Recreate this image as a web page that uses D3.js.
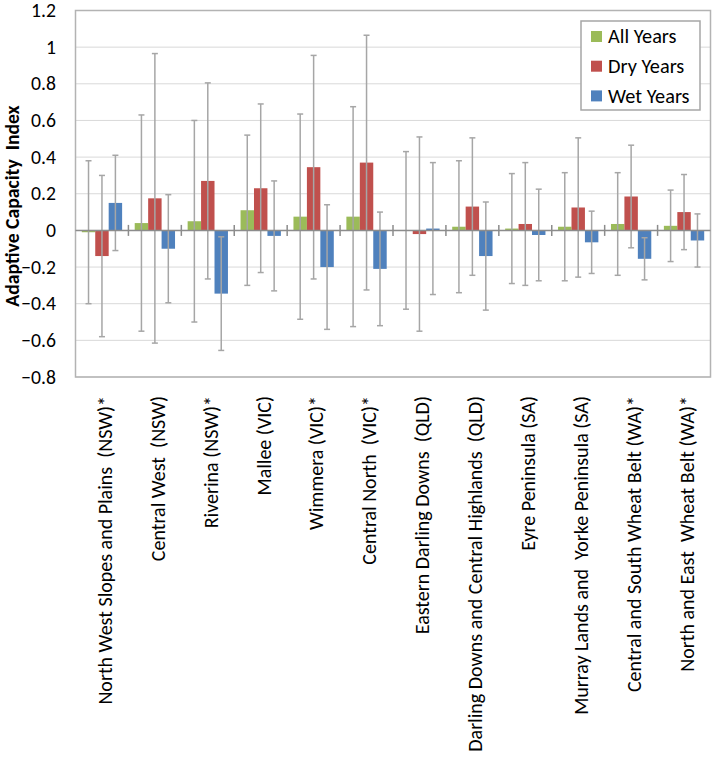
<!DOCTYPE html>
<html>
<head>
<meta charset="utf-8">
<script src="https://cdn.jsdelivr.net/npm/d3@7"></script>
<style>
  body { margin: 0; background: #fff; }
  svg text { font-family: Carlito, Calibri, Lato, "Open Sans", sans-serif; fill: #000; }
</style>
</head>
<body>
<svg id="chart" width="715" height="757"></svg>
<script>
// ===============================
// Dades
// ===============================
const regions = [
  "North West Slopes and Plains  (NSW)*",
  "Central West  (NSW)",
  "Riverina (NSW)*",
  "Mallee (VIC)",
  "Wimmera (VIC)*",
  "Central North  (VIC)*",
  "Eastern Darling Downs  (QLD)",
  "Darling Downs and Central Highlands  (QLD)",
  "Eyre Peninsula (SA)",
  "Murray Lands and  Yorke Peninsula (SA)",
  "Central and South Wheat Belt (WA)*",
  "North and East  Wheat Belt (WA)*"
];

const seriesNames = ["All Years", "Dry Years", "Wet Years"];
const seriesColors = ["#9bbb59", "#c0504d", "#4f81bd"];

const allYears = [-0.01, 0.04, 0.05, 0.11, 0.075, 0.075, 0.0, 0.02, 0.01, 0.02, 0.035, 0.025];
const dryYears = [-0.14, 0.175, 0.27, 0.23, 0.345, 0.37, -0.02, 0.13, 0.035, 0.125, 0.185, 0.1];
const wetYears = [0.15, -0.1, -0.345, -0.03, -0.2, -0.21, 0.01, -0.14, -0.025, -0.065, -0.155, -0.055];

// error bars (+/-)
const allYearsErr = [0.39, 0.59, 0.55, 0.41, 0.56, 0.6, 0.43, 0.36, 0.3, 0.295, 0.28, 0.195];
const dryYearsErr = [0.44, 0.79, 0.535, 0.46, 0.61, 0.695, 0.53, 0.375, 0.335, 0.38, 0.28, 0.205];
const wetYearsErr = [0.26, 0.295, 0.31, 0.3, 0.34, 0.31, 0.36, 0.295, 0.25, 0.17, 0.115, 0.145];

const yTicks = [-0.8, -0.6, -0.4, -0.2, 0, 0.2, 0.4, 0.6, 0.8, 1, 1.2];

// ===============================
// Muntatge
// ===============================
const values = [allYears, dryYears, wetYears];
const errors = [allYearsErr, dryYearsErr, wetYearsErr];

const svg = d3.select("#chart");
const plotLeft = 75.5, plotRight = 710.5, plotTop = 10.5, plotBottom = 377;

const x0 = d3.scaleBand().domain(regions).range([plotLeft, plotRight]).padding(0);
const x1 = d3.scaleBand().domain(seriesNames)
  .range([6.3, x0.bandwidth() - 6.3]).padding(0);
const y = d3.scaleLinear().domain([-0.8, 1.2]).range([plotBottom, plotTop]);

// gridlines
svg.append("g")
  .selectAll("line")
  .data(yTicks)
  .enter()
  .append("line")
  .attr("x1", plotLeft).attr("x2", plotRight)
  .attr("y1", d => y(d)).attr("y2", d => y(d))
  .attr("stroke", "#d9d9d9")
  .attr("stroke-width", 1);

// plot border
svg.append("rect")
  .attr("x", plotLeft).attr("y", plotTop)
  .attr("width", plotRight - plotLeft).attr("height", plotBottom - plotTop)
  .attr("fill", "none")
  .attr("stroke", "#b3b3b3")
  .attr("stroke-width", 1.5);

// y tick labels
svg.append("g")
  .selectAll("text")
  .data(yTicks)
  .enter()
  .append("text")
  .attr("x", 56)
  .attr("y", d => y(d))
  .attr("dy", "0.34em")
  .attr("text-anchor", "end")
  .style("font-size", "19.7px")
  .text(d => d3.format("")(d));

// y title
svg.append("text")
  .attr("transform", "translate(12,206) rotate(-90)")
  .attr("dy", "0.34em")
  .attr("text-anchor", "middle")
  .style("font-size", "19.7px")
  .style("font-weight", "bold")
  .style("white-space", "pre")
  .text("Adaptive Capacity  Index");

// bars
const groups = svg.append("g")
  .selectAll("g")
  .data(regions)
  .enter()
  .append("g")
  .attr("transform", d => `translate(${x0(d)},0)`);

seriesNames.forEach((s, si) => {
  groups.append("rect")
    .attr("x", x1(s))
    .attr("width", x1.bandwidth())
    .attr("y", (d, i) => y(Math.max(0, values[si][i])))
    .attr("height", (d, i) => Math.abs(y(values[si][i]) - y(0)))
    .attr("fill", seriesColors[si]);
});

// zero axis line + category ticks
svg.append("line")
  .attr("x1", plotLeft).attr("x2", plotRight)
  .attr("y1", y(0)).attr("y2", y(0))
  .attr("stroke", "#8c8c8c")
  .attr("stroke-width", 1.5);

svg.append("g")
  .selectAll("line")
  .data(regions.slice(1))
  .enter()
  .append("line")
  .attr("x1", d => x0(d)).attr("x2", d => x0(d))
  .attr("y1", y(0) - 5.5).attr("y2", y(0) + 5.5)
  .attr("stroke", "#8c8c8c")
  .attr("stroke-width", 1.5);

// error bars
seriesNames.forEach((s, si) => {
  const eb = groups.append("g")
    .attr("stroke", "#a6a6a6")
    .attr("stroke-width", 1.5);
  const cx = x1(s) + x1.bandwidth() / 2;

  eb.append("line")
    .attr("x1", cx).attr("x2", cx)
    .attr("y1", (d, i) => y(values[si][i] + errors[si][i]))
    .attr("y2", (d, i) => y(values[si][i] - errors[si][i]));

  eb.append("line")
    .attr("x1", cx - 3).attr("x2", cx + 3)
    .attr("y1", (d, i) => y(values[si][i] + errors[si][i]))
    .attr("y2", (d, i) => y(values[si][i] + errors[si][i]));

  eb.append("line")
    .attr("x1", cx - 3).attr("x2", cx + 3)
    .attr("y1", (d, i) => y(values[si][i] - errors[si][i]))
    .attr("y2", (d, i) => y(values[si][i] - errors[si][i]));
});

// x labels
svg.append("g")
  .selectAll("text")
  .data(regions)
  .enter()
  .append("text")
  .attr("transform", d => `translate(${x0(d) + x0.bandwidth() / 2 + 3},396) rotate(-90)`)
  .attr("dy", "0.34em")
  .attr("text-anchor", "end")
  .style("font-size", "20px")
  .style("white-space", "pre")
  .text(d => d);

// ===============================
// Llegenda
// ===============================
const legend = svg.append("g").attr("transform", "translate(581,21)");

legend.append("rect")
  .attr("width", 119)
  .attr("height", 89)
  .attr("fill", "white")
  .attr("stroke", "#a6a6a6")
  .attr("stroke-width", 1.5);

const items = legend.selectAll(".item")
  .data(seriesNames)
  .enter()
  .append("g")
  .attr("transform", (d, i) => `translate(10, ${15.5 + i * 29.7})`);

items.append("rect")
  .attr("x", 0).attr("y", -5.5)
  .attr("width", 11).attr("height", 11)
  .attr("fill", (d, i) => seriesColors[i]);

items.append("text")
  .attr("x", 17)
  .attr("dy", "0.34em")
  .style("font-size", "20.3px")
  .text(d => d);
</script>
</body>
</html>
